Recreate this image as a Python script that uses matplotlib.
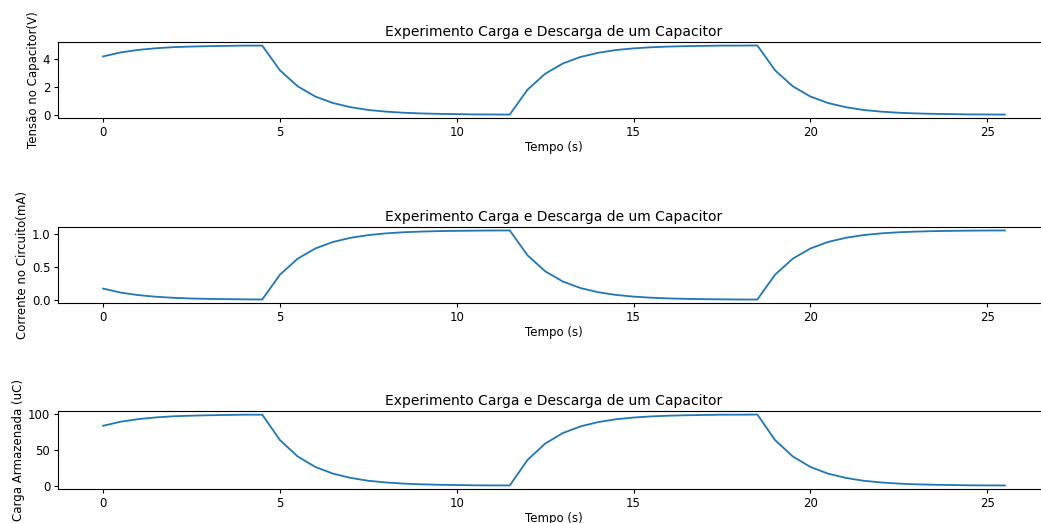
import matplotlib
matplotlib.use("Agg")
import matplotlib.pyplot as plt
import numpy as np

# tempo em passos de 0.5 s (0 a 25.5)
tempo = np.arange(0, 26, 0.5)

tensao = [4.20, 4.49, 4.67, 4.79, 4.87, 4.91, 4.94, 4.96, 4.98, 4.98,
          3.20, 2.05, 1.31, 0.84, 0.54, 0.34, 0.22, 0.14, 0.09, 0.06, 0.04, 0.02, 0.015, 0.01,
          1.80, 2.95, 3.69, 4.16, 4.46, 4.66, 4.78, 4.86, 4.91, 4.94, 4.96, 4.98, 4.98, 4.99,
          3.20, 2.05, 1.31, 0.84, 0.54, 0.34, 0.22, 0.14, 0.09, 0.06, 0.04, 0.02, 0.015, 0.01]

corrente = [0.168, 0.107, 0.069, 0.044, 0.028, 0.018, 0.012, 0.008, 0.005, 0.003,
            0.378, 0.620, 0.775, 0.874, 0.937, 0.978, 1.004, 1.021, 1.031, 1.038, 1.042, 1.045, 1.047, 1.048,
            0.672, 0.430, 0.275, 0.176, 0.113, 0.072, 0.046, 0.030, 0.019, 0.012, 0.008, 0.005, 0.003, 0.002,
            0.378, 0.620, 0.775, 0.874, 0.937, 0.978, 1.004, 1.021, 1.031, 1.038, 1.042, 1.045, 1.047, 1.048]

carga = [84.0, 89.8, 93.4, 95.8, 97.4, 98.2, 98.8, 99.2, 99.6, 99.6,
         64.0, 41.0, 26.2, 16.8, 10.8, 6.8, 4.4, 2.8, 1.8, 1.2, 0.8, 0.4, 0.3, 0.2,
         36.0, 59.0, 73.8, 83.2, 89.2, 93.2, 95.6, 97.2, 98.2, 98.8, 99.2, 99.6, 99.6, 99.8,
         64.0, 41.0, 26.2, 16.8, 10.8, 6.8, 4.4, 2.8, 1.8, 1.2, 0.8, 0.4, 0.3, 0.2]

titulo = 'Experimento Carga e Descarga de um Capacitor'
series = [(tensao, 'Tensão no Capacitor(V)', [0, 2, 4]),
          (corrente, 'Corrente no Circuito(mA)', [0.0, 0.5, 1.0]),
          (carga, 'Carga Armazenada (uC)', [0, 50, 100])]

W, H = 1041, 523
fig = plt.figure(figsize=(W / 100, H / 100), dpi=100)

# posicoes dos eixos em pixels (topo, base); o lado direito passa da borda
caixas = [(42, 118), (227, 303), (411, 489)]
left, right = 58, 1050

for (valores, ylabel, yticks), (top, bottom) in zip(series, caixas):
    ax = fig.add_axes([left / W, 1 - bottom / H, (right - left) / W, (bottom - top) / H])
    ax.plot(tempo, valores, color='#1f77b4', linewidth=1.3)
    ax.set_title(titulo, fontsize=10, pad=4)
    ax.set_xlabel('Tempo (s)', fontsize=8.5, labelpad=2)
    ax.set_ylabel(ylabel, fontsize=8.5, labelpad=2)
    ax.set_yticks(yticks)
    ax.set_xticks([0, 5, 10, 15, 20, 25])
    ax.tick_params(labelsize=8.5, length=3, pad=2.5)

fig.savefig('out.png', dpi=100)
